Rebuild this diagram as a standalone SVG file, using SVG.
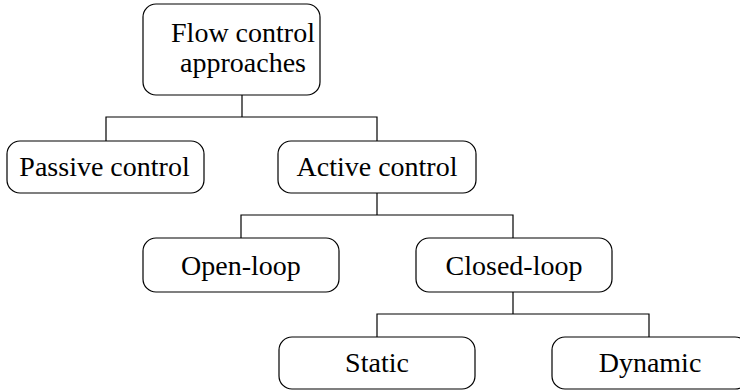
<svg xmlns="http://www.w3.org/2000/svg" width="740" height="390" viewBox="0 0 740 390">
  <style>
    .box { fill: #ffffff; stroke: #000000; stroke-width: 1.2; }
    .lbl { font-family: "Liberation Serif", "Times New Roman", serif; font-size: 28px; fill: #000000; text-anchor: middle; }
    .wire { fill: none; stroke: #000000; stroke-width: 1.2; }
  </style>
  <rect width="740" height="390" fill="#ffffff"/>

  <!-- connectors -->
  <g id="connectors">
    <path class="wire" d="M242,95 V117 M106,141 V117 H377 V141"/>
    <path class="wire" d="M377,193 V215 M241,238 V215 H513 V238"/>
    <path class="wire" d="M513,292 V314 M377,337 V314 H649 V337"/>
  </g>

  <g id="root">
    <rect class="box" x="143" y="4" width="177" height="91" rx="13"/>
    <text class="lbl" x="243" y="42">Flow control</text>
    <text class="lbl" x="243" y="72">approaches</text>
  </g>

  <g id="passive">
    <rect class="box" x="7" y="141" width="197" height="52" rx="13"/>
    <text class="lbl" x="104.5" y="176">Passive control</text>
  </g>

  <g id="active">
    <rect class="box" x="278" y="141" width="198" height="52" rx="13"/>
    <text class="lbl" x="377" y="176">Active control</text>
  </g>

  <g id="open-loop">
    <rect class="box" x="143" y="238" width="196" height="54" rx="13"/>
    <text class="lbl" x="241" y="275">Open-loop</text>
  </g>

  <g id="closed-loop">
    <rect class="box" x="416" y="238" width="196" height="54" rx="13"/>
    <text class="lbl" x="514" y="275">Closed-loop</text>
  </g>

  <g id="static">
    <rect class="box" x="279" y="337" width="196" height="52" rx="13"/>
    <text class="lbl" x="377" y="372">Static</text>
  </g>

  <g id="dynamic">
    <rect class="box" x="552" y="337" width="196" height="52" rx="13"/>
    <text class="lbl" x="650" y="372">Dynamic</text>
  </g>
</svg>
